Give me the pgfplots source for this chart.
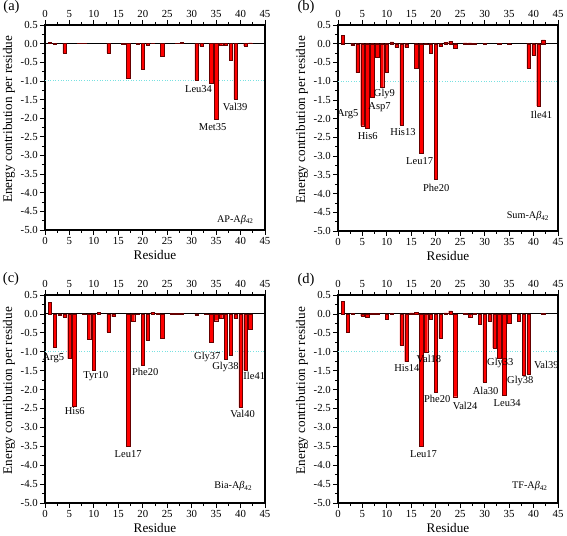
\documentclass[border=0pt]{standalone}
\usepackage{pgfplots}
\pgfplotsset{compat=1.18}
\usepackage{fontspec}
\setmainfont{Liberation Serif}
\definecolor{dotcyan}{RGB}{120,225,225}
\tikzset{ann/.style={font=\fontsize{10.5}{12}\selectfont, inner sep=0pt},
         leg/.style={font=\fontsize{10.2}{12}\selectfont, inner sep=0pt}}
\pgfplotsset{
  panel/.style={
    scale only axis, width=220pt,
    xmin=0, xmax=45, ymin=-5, ymax=0.5,
    xtick={0,5,...,45},
    ytick={-5,-4.5,-4,-3.5,-3,-2.5,-2,-1.5,-1,-0.5,0,0.5},
    minor x tick num=1, minor y tick num=1,
    tick align=outside, xtick pos=bottom, ytick pos=left,
    major tick length=5pt, minor tick length=3pt,
    axis line style={line width=1.1pt},
    every tick/.style={black, line width=0.8pt},
    tick label style={font=\fontsize{10.8}{12}\selectfont},
    xticklabel style={inner sep=2pt},
    yticklabel style={inner sep=2pt},
    /pgf/number format/assume math mode=true,
    yticklabel style={/pgf/number format/.cd, fixed, fixed zerofill, precision=1},
    xlabel={Residue}, ylabel={Energy contribution per residue},
    label style={font=\fontsize{13.2}{15}\selectfont},
    xlabel style={at={(axis description cs:0.5,-0.122)}, anchor=center},
    ylabel style={at={(axis description cs:-0.164,0.54)}, anchor=center},
    clip=false,
  },
  toppanel/.style={
    scale only axis, width=220pt,
    xmin=0, xmax=45, ymin=-5, ymax=0.5,
    axis x line*=top, axis y line=none,
    xtick={0,5,...,45}, minor x tick num=1,
    tick align=outside, xticklabel pos=upper,
    major tick length=5pt, minor tick length=3pt,
    axis line style={line width=1.1pt},
    every tick/.style={black, line width=0.8pt},
    tick label style={font=\fontsize{10.8}{12}\selectfont},
    xticklabel style={inner sep=2pt},
    /pgf/number format/assume math mode=true,
  },
  barsty/.style={ybar, bar width=0.7, fill=red, draw=black!60!red, line width=0.4pt},
}
\newcommand{\refl}{%
  \addplot[dotcyan, line width=0.9pt, dash pattern=on 1pt off 1.6pt, forget plot] coordinates {(0,-1) (45,-1)};
  \addplot[black, line width=1pt, forget plot] coordinates {(0,0) (45,0)};
}
\begin{document}
\begin{tikzpicture}[x=1pt,y=1pt]
\path[use as bounding box] (0,0) rectangle (567,535);

% ---------- (a)
\begin{axis}[panel, at={(45pt,305pt)}, anchor=south west, height=205pt]
\refl
\addplot[barsty] coordinates {(1,0.03) (2,-0.01) (4,-0.25) (7,0.01) (8,0.01) (13,-0.25) (16,-0.02) (17,-0.93) (19,-0.02) (20,-0.68) (21,-0.05) (22,0.01) (24,-0.35) (27,0.01) (28,0.03) (31,-0.97) (32,-0.07) (34,-1.05) (35,-2.02) (36,-0.05) (37,-0.05) (38,-0.44) (39,-1.48) (41,-0.06) (42,0.02)};
\node[ann] at (axis cs:31.4,-1.23) {Leu34};
\node[ann] at (axis cs:34.3,-2.23) {Met35};
\node[ann] at (axis cs:38.9,-1.69) {Val39};
\node[leg, anchor=east] at (axis cs:42.7,-4.72) {AP-A\textit{β}\textsubscript{42}};
\end{axis}
\begin{axis}[toppanel, at={(45pt,305pt)}, anchor=south west, height=205pt]
\addplot[draw=none] coordinates {(0,0)};
\end{axis}

% ---------- (b)
\begin{axis}[panel, at={(338pt,304pt)}, anchor=south west, height=206pt]
\refl
\addplot[barsty] coordinates {(1,0.23) (3,-0.05) (4,-0.77) (5,-2.19) (6,-2.25) (7,-1.43) (8,-0.35) (9,-1.17) (10,-0.75) (11,0.05) (12,-0.1) (13,-2.17) (14,-0.1) (16,-0.66) (17,-2.92) (18,-0.02) (19,-0.26) (20,-3.63) (21,-0.07) (22,0.04) (23,0.06) (24,-0.12) (26,0.02) (27,0.02) (28,0.01) (30,0.01) (33,0.01) (35,-0.01) (39,-0.66) (40,-0.3) (41,-1.66) (42,0.1)};
\node[ann] at (axis cs:2.0,-1.87) {Arg5};
\node[ann] at (axis cs:6.1,-2.46) {His6};
\node[ann] at (axis cs:8.5,-1.69) {Asp7};
\node[ann] at (axis cs:9.5,-1.35) {Gly9};
\node[ann] at (axis cs:13.3,-2.37) {His13};
\node[ann] at (axis cs:16.7,-3.14) {Leu17};
\node[ann] at (axis cs:20.1,-3.85) {Phe20};
\node[ann] at (axis cs:41.6,-1.9) {Ile41};
\node[leg, anchor=east] at (axis cs:43.2,-4.6) {Sum-A\textit{β}\textsubscript{42}};
\end{axis}
\begin{axis}[toppanel, at={(338pt,304pt)}, anchor=south west, height=206pt]
\addplot[draw=none] coordinates {(0,0)};
\end{axis}

% ---------- (c)
\begin{axis}[panel, at={(45pt,32pt)}, anchor=south west, height=208pt]
\refl
\addplot[barsty] coordinates {(1,0.31) (2,-0.89) (3,-0.03) (4,-0.08) (5,-1.18) (6,-2.44) (8,-0.02) (9,-0.66) (10,-1.5) (11,0.05) (13,-0.48) (14,-0.07) (17,-3.51) (18,-0.19) (19,-0.02) (20,-1.35) (21,-0.7) (22,0.05) (23,0.01) (24,-0.65) (26,0.02) (27,0.02) (28,0.02) (31,-0.03) (33,-0.01) (34,-0.75) (35,-0.18) (36,-0.12) (37,-1.19) (38,-1.08) (39,-0.12) (40,-2.47) (41,-1.49) (42,-0.4)};
\node[ann] at (axis cs:1.7,-1.17) {Arg5};
\node[ann] at (axis cs:6.1,-2.58) {His6};
\node[ann] at (axis cs:10.4,-1.64) {Tyr10};
\node[ann] at (axis cs:17.0,-3.71) {Leu17};
\node[ann] at (axis cs:20.5,-1.54) {Phe20};
\node[ann] at (axis cs:33.2,-1.15) {Gly37};
\node[ann] at (axis cs:36.9,-1.41) {Gly38};
\node[ann] at (axis cs:42.8,-1.65) {Ile41};
\node[ann] at (axis cs:40.4,-2.64) {Val40};
\node[leg, anchor=east] at (axis cs:42.4,-4.56) {Bia-A\textit{β}\textsubscript{42}};
\end{axis}
\begin{axis}[toppanel, at={(45pt,32pt)}, anchor=south west, height=208pt]
\addplot[draw=none] coordinates {(0,0)};
\end{axis}

% ---------- (d)
\begin{axis}[panel, at={(338pt,32pt)}, anchor=south west, height=208pt]
\refl
\addplot[barsty] coordinates {(1,0.33) (2,-0.49) (3,0.02) (5,-0.05) (6,-0.1) (7,0.02) (8,0.02) (10,-0.15) (11,0.01) (13,-0.83) (14,-1.26) (15,0.03) (16,0.05) (17,-3.5) (18,-1.02) (19,-0.13) (20,-2.08) (21,-0.64) (22,0.03) (23,0.08) (24,-2.19) (26,0.02) (27,-0.1) (28,0.02) (29,-0.27) (30,-1.8) (31,-0.2) (32,-0.9) (33,-1.16) (34,-2.16) (35,-0.24) (37,-0.2) (38,-1.61) (39,-1.59) (42,0.02)};
\node[ann] at (axis cs:14.1,-1.43) {His14};
\node[ann] at (axis cs:18.6,-1.2) {Val18};
\node[ann] at (axis cs:17.5,-3.7) {Leu17};
\node[ann] at (axis cs:20.3,-2.25) {Phe20};
\node[ann] at (axis cs:26.0,-2.44) {Val24};
\node[ann] at (axis cs:30.2,-2.03) {Ala30};
\node[ann] at (axis cs:33.2,-1.30) {Gly33};
\node[ann] at (axis cs:34.6,-2.35) {Leu34};
\node[ann] at (axis cs:37.3,-1.77) {Gly38};
\node[ann] at (axis cs:42.6,-1.35) {Val39};
\node[leg, anchor=east] at (axis cs:42.9,-4.56) {TF-A\textit{β}\textsubscript{42}};
\end{axis}
\begin{axis}[toppanel, at={(338pt,32pt)}, anchor=south west, height=208pt]
\addplot[draw=none] coordinates {(0,0)};
\end{axis}

% panel letters
\node[font=\fontsize{14.5}{16}\selectfont] at (11.5,527.5) {(a)};
\node[font=\fontsize{14.5}{16}\selectfont] at (306,528) {(b)};
\node[font=\fontsize{14.5}{16}\selectfont] at (11,256) {(c)};
\node[font=\fontsize{14.5}{16}\selectfont] at (306,255) {(d)};
\end{tikzpicture}
\end{document}
